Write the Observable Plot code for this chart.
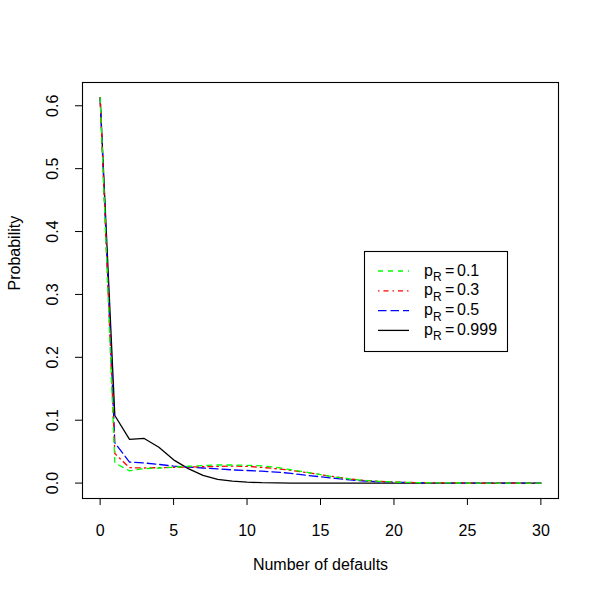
<!DOCTYPE html>
<html>
<head>
<meta charset="utf-8">
<script src="https://cdn.jsdelivr.net/npm/d3@7"></script>
<script src="https://cdn.jsdelivr.net/npm/@observablehq/plot@0.6"></script>
<style>
  html, body { margin: 0; padding: 0; background: white; }
  #chart { width: 600px; height: 600px; }
</style>
</head>
<body>
<div id="chart"></div>
<script>
const defaults = [0,1,2,3,4,5,6,7,8,9,10,11,12,13,14,15,16,17,18,19,20,21,22,23,24,25,26,27,28,29,30];

const p01 = [0.613,0.032,0.0195,0.023,0.024,0.0252,0.0268,0.028,0.0288,0.0288,0.0283,0.0275,0.025,0.0212,0.0175,0.0135,0.0097,0.0065,0.004,0.0027,0.0016,0.001,0.0006,0.0003,0.0002,0.0001,0,0,0,0,0];
const p03 = [0.613,0.047,0.0245,0.024,0.0245,0.025,0.0255,0.026,0.0265,0.027,0.0265,0.025,0.0228,0.0203,0.017,0.0135,0.0098,0.0066,0.0042,0.0027,0.0016,0.001,0.0006,0.0003,0.0002,0.0001,0,0,0,0,0];
const p05 = [0.613,0.064,0.0335,0.032,0.0297,0.027,0.0255,0.024,0.0225,0.021,0.02,0.019,0.0175,0.0155,0.0125,0.01,0.0075,0.0052,0.0033,0.0021,0.0013,0.0008,0.0005,0.0003,0.0001,0.0001,0,0,0,0,0];
const p0999 = [0.613,0.1075,0.0694,0.071,0.057,0.037,0.023,0.0122,0.006,0.003,0.0015,0.0006,0.0003,0.0001,0,0,0,0,0,0,0,0,0,0,0,0,0,0,0,0,0];

const seriesValues = ["0.1","0.3","0.5","0.999"];
const seriesColors = ["#00FF00","#FF0000","#0000FF","#000000"];
const seriesDash = ["5,5","1.5,4,5,4","8.5,4",null];
const seriesData = [p01, p03, p05, p0999];

const xTicks = [0,5,10,15,20,25,30];
const yTicks = [0,0.1,0.2,0.3,0.4,0.5,0.6];
const xLabel = "Number of defaults";
const yLabel = "Probability";

const drawOrder = [3,2,1,0];
const lineMarks = drawOrder.map(k => Plot.lineY(seriesData[k], {
  x: (d, i) => defaults[i],
  y: d => d,
  stroke: seriesColors[k],
  strokeWidth: 1.3,
  strokeDasharray: seriesDash[k] || undefined
}));

const chart = Plot.plot({
  width: 600,
  height: 600,
  marginLeft: 82,
  marginRight: 42,
  marginTop: 82,
  marginBottom: 102,
  style: { fontFamily: "'Liberation Sans', Arial, sans-serif", fontSize: "16px", background: "white", color: "black" },
  x: { domain: [-1.2, 31.2], label: null },
  y: { domain: [-0.0245, 0.637], label: null },
  marks: [
    ...lineMarks,
    Plot.frame({ stroke: "black", strokeWidth: 1.1 }),
    Plot.axisX({ ticks: xTicks, tickSize: 7, tickPadding: 19, label: null, fontSize: 16, tickFormat: d => String(d) }),
    Plot.axisY({ ticks: yTicks, tickSize: 7, tickPadding: 18, tickRotate: -90, label: null, fontSize: 16, tickFormat: d3.format(".1f") }),
    Plot.text([xLabel], { frameAnchor: "bottom", dy: 71, text: d => d, fontSize: 16 }),
    Plot.text([yLabel], { frameAnchor: "left", dx: -68, rotate: -90, text: d => d, fontSize: 16 })
  ]
});

document.getElementById("chart").appendChild(chart);

// Legend inside the plot region
const svg = d3.select(chart);
const lg = svg.append("g")
  .attr("font-family", "'Liberation Sans', Arial, sans-serif")
  .attr("text-anchor", "start");
lg.append("rect").attr("x", 364.5).attr("y", 251.5).attr("width", 143).attr("height", 100)
  .attr("fill", "white").attr("stroke", "black").attr("stroke-width", 1.1);
seriesValues.forEach((v, i) => {
  const y = 271 + i * 19.8;
  lg.append("line").attr("x1", 378).attr("x2", 409).attr("y1", y).attr("y2", y)
    .attr("stroke", seriesColors[i]).attr("stroke-width", 1.3)
    .attr("stroke-dasharray", seriesDash[i] || null);
  const g = lg.append("g").attr("fill", "black").attr("text-anchor", "start");
  g.append("text").attr("x", 424).attr("y", y + 4.5).attr("font-size", 16).text("p");
  g.append("text").attr("x", 433).attr("y", y + 10).attr("font-size", 12).text("R");
  g.append("text").attr("x", 445).attr("y", y + 4.5).attr("font-size", 16).text("=");
  g.append("text").attr("x", 457).attr("y", y + 4.5).attr("font-size", 16).text(v);
});
</script>
</body>
</html>
